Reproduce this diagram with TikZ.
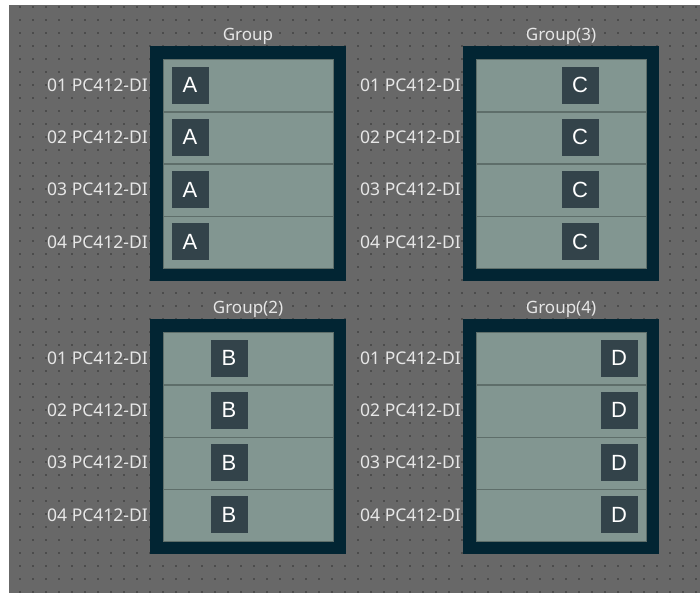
\documentclass[tikz,border=0pt]{standalone}
\usepackage{fontspec}
\setmainfont{Noto Sans}
\newfontfamily\badgefont{Liberation Sans}
\usetikzlibrary{positioning}

\definecolor{canvas}{HTML}{686868}
\definecolor{dotgray}{HTML}{4C4C4C}
\definecolor{framedark}{HTML}{022533}
\definecolor{rowgray}{HTML}{829691}
\definecolor{rowline}{HTML}{5E6E6A}
\definecolor{badgedark}{HTML}{33434A}
\definecolor{labeltext}{HTML}{E6E6E6}

\begin{document}
\begin{tikzpicture}[x=1pt, y=-1pt,
    groupbox/.style={rectangle, fill=framedark, minimum width=196pt, minimum height=235pt, inner sep=0pt, anchor=north west},
    rowcell/.style={rectangle, fill=rowgray, draw=rowline, line width=1.4pt, minimum width=170pt, minimum height=52.25pt, inner sep=0pt, anchor=north west},
    badge/.style={rectangle, fill=badgedark, minimum size=37pt, inner sep=0pt, text=white, font=\badgefont\fontsize{22}{22}\selectfont},
    devlabel/.style={anchor=east, inner sep=0pt, text=labeltext, font=\fontsize{17.5}{18}\selectfont},
    grouptitle/.style={inner sep=0pt, text=labeltext, font=\fontsize{17}{18}\selectfont}
]
    % canvas with dot grid
    \fill[white] (0,0) rectangle (700,593);
    \useasboundingbox (0,0) rectangle (700,593);
    \fill[canvas] (9,5) rectangle (700,593);
    \foreach \i in {0,...,52}
        \foreach \j in {0,...,45}
            \fill[dotgray] ({19.4+13*\i},{6.4+13*\j}) rectangle +(1.2,1.2);

    % groups: name / left / top / badge x / title / letter
    \foreach \g/\x/\y/\bx/\t/\letter in {A/150/46/40/Group/A, C/463/46/117/Group(3)/C,
                                        B/150/319/79/Group(2)/B, D/463/319/156/Group(4)/D} {
        \node[groupbox] (g\g) at (\x,\y) {};
        \node[grouptitle] (t\g) at ({\x+98},{\y-10}) {\t};
        \foreach \r in {1,...,4} {
            \node[rowcell] (g\g-r\r) at ({\x+13},{\y+13+(\r-1)*52.25}) {};
            \node[badge] (g\g-b\r) at ({\x+\bx},{\y+13+(\r-0.5)*52.25}) {\letter};
            \node[devlabel] (g\g-l\r) at ({\x-2},{\y+13+(\r-0.5)*52.25}) {0\r\ PC412-DI};
        }
    }
\end{tikzpicture}
\end{document}
